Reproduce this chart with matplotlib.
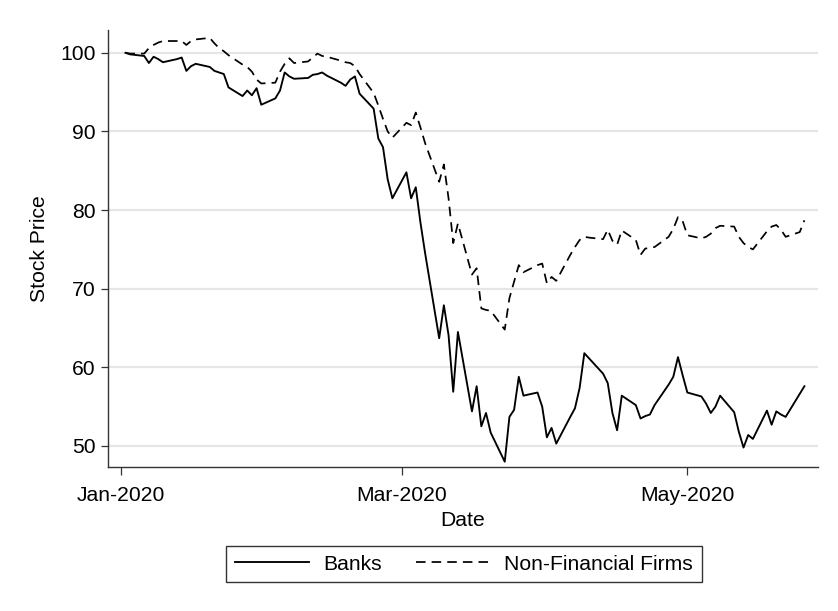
import pandas as pd
import matplotlib
matplotlib.use('Agg')
import matplotlib.pyplot as plt
import matplotlib.dates as mdates

plt.rcParams['font.family'] = ['Liberation Sans', 'DejaVu Sans']

# Banks (solid line)
bank_dates = ['2020-01-02', '2020-01-03', '2020-01-06', '2020-01-07', '2020-01-08',
              '2020-01-09', '2020-01-10', '2020-01-13', '2020-01-14', '2020-01-15',
              '2020-01-16', '2020-01-17', '2020-01-20', '2020-01-21', '2020-01-22',
              '2020-01-23', '2020-01-24', '2020-01-27', '2020-01-28', '2020-01-29',
              '2020-01-30', '2020-01-31', '2020-02-03', '2020-02-04', '2020-02-05',
              '2020-02-06', '2020-02-07', '2020-02-10', '2020-02-11', '2020-02-12',
              '2020-02-13', '2020-02-14', '2020-02-17', '2020-02-18', '2020-02-19',
              '2020-02-20', '2020-02-21', '2020-02-24', '2020-02-25', '2020-02-26',
              '2020-02-27', '2020-02-28', '2020-03-02', '2020-03-03', '2020-03-04',
              '2020-03-05', '2020-03-06', '2020-03-09', '2020-03-10', '2020-03-11',
              '2020-03-12', '2020-03-13', '2020-03-16', '2020-03-17', '2020-03-18',
              '2020-03-19', '2020-03-20', '2020-03-23', '2020-03-24', '2020-03-25',
              '2020-03-26', '2020-03-27', '2020-03-30', '2020-03-31', '2020-04-01',
              '2020-04-02', '2020-04-03', '2020-04-06', '2020-04-07', '2020-04-08',
              '2020-04-09', '2020-04-13', '2020-04-14', '2020-04-15', '2020-04-16',
              '2020-04-17', '2020-04-20', '2020-04-21', '2020-04-22', '2020-04-23',
              '2020-04-24', '2020-04-27', '2020-04-28', '2020-04-29', '2020-04-30',
              '2020-05-01', '2020-05-04', '2020-05-05', '2020-05-06', '2020-05-07',
              '2020-05-08', '2020-05-11', '2020-05-12', '2020-05-13', '2020-05-14',
              '2020-05-15', '2020-05-18', '2020-05-19', '2020-05-20', '2020-05-21',
              '2020-05-22', '2020-05-26']
bank_vals = [100.0, 99.8, 99.6, 98.7, 99.5,
             99.2, 98.8, 99.2, 99.4, 97.7,
             98.3, 98.6, 98.2, 97.7, 97.5,
             97.3, 95.6, 94.5, 95.2, 94.6,
             95.5, 93.4, 94.2, 95.2, 97.5,
             97.0, 96.7, 96.8, 97.2, 97.3,
             97.5, 97.1, 96.2, 95.8, 96.6,
             97.0, 94.8, 92.9, 89.1, 88.0,
             83.9, 81.5, 84.8, 81.5, 82.9,
             78.4, 74.5, 63.7, 67.9, 64.1,
             56.9, 64.5, 54.4, 57.6, 52.5,
             54.2, 51.7, 48.0, 53.7, 54.6,
             58.8, 56.4, 56.8, 55.0, 51.1,
             52.3, 50.3, 53.7, 54.8, 57.4,
             61.8, 59.2, 58.0, 54.2, 52.0,
             56.4, 55.2, 53.5, 53.8, 54.0,
             55.2, 57.8, 58.8, 61.3, 59.0,
             56.8, 56.3, 55.4, 54.2, 55.0,
             56.4, 54.3, 51.8, 49.8, 51.4,
             50.9, 54.5, 52.7, 54.4, 54.0,
             53.7, 57.6]

# Non-financial firms (dashed line)
nfc_dates = ['2020-01-02', '2020-01-03', '2020-01-06', '2020-01-07', '2020-01-08',
             '2020-01-09', '2020-01-10', '2020-01-13', '2020-01-14', '2020-01-15',
             '2020-01-16', '2020-01-17', '2020-01-20', '2020-01-21', '2020-01-22',
             '2020-01-23', '2020-01-24', '2020-01-27', '2020-01-28', '2020-01-29',
             '2020-01-30', '2020-01-31', '2020-02-03', '2020-02-04', '2020-02-05',
             '2020-02-06', '2020-02-07', '2020-02-10', '2020-02-11', '2020-02-12',
             '2020-02-13', '2020-02-14', '2020-02-17', '2020-02-18', '2020-02-19',
             '2020-02-20', '2020-02-21', '2020-02-24', '2020-02-25', '2020-02-26',
             '2020-02-27', '2020-02-28', '2020-03-02', '2020-03-03', '2020-03-04',
             '2020-03-05', '2020-03-06', '2020-03-09', '2020-03-10', '2020-03-11',
             '2020-03-12', '2020-03-13', '2020-03-16', '2020-03-17', '2020-03-18',
             '2020-03-19', '2020-03-20', '2020-03-23', '2020-03-24', '2020-03-25',
             '2020-03-26', '2020-03-27', '2020-03-30', '2020-03-31', '2020-04-01',
             '2020-04-02', '2020-04-03', '2020-04-06', '2020-04-07', '2020-04-08',
             '2020-04-09', '2020-04-10', '2020-04-13', '2020-04-14', '2020-04-15',
             '2020-04-16', '2020-04-17', '2020-04-20', '2020-04-21', '2020-04-22',
             '2020-04-23', '2020-04-24', '2020-04-27', '2020-04-28', '2020-04-29',
             '2020-04-30', '2020-05-01', '2020-05-04', '2020-05-05', '2020-05-06',
             '2020-05-07', '2020-05-08', '2020-05-11', '2020-05-12', '2020-05-13',
             '2020-05-14', '2020-05-15', '2020-05-18', '2020-05-19', '2020-05-20',
             '2020-05-21', '2020-05-22', '2020-05-25', '2020-05-26']
nfc_vals = [100.0, 99.9, 99.9, 100.6, 101.0,
            101.3, 101.5, 101.5, 101.5, 101.0,
            101.5, 101.7, 101.9, 101.2, 100.6,
            100.2, 99.7, 98.5, 98.2, 97.6,
            96.6, 96.1, 96.2, 97.6, 98.6,
            99.3, 98.7, 98.9, 99.4, 99.9,
            99.6, 99.5, 99.0, 98.8, 98.7,
            98.3, 97.3, 94.9, 93.3, 91.6,
            90.0, 89.2, 91.1, 90.8, 92.4,
            90.5, 88.5, 83.6, 85.8, 81.5,
            75.8, 78.3, 71.8, 72.6, 67.5,
            67.3, 67.2, 64.8, 68.8, 70.9,
            73.0, 72.1, 73.0, 73.2, 70.7,
            71.5, 71.0, 74.3, 75.3, 76.2,
            76.6, 76.5, 76.3, 77.5, 76.1,
            75.6, 77.4, 76.2, 74.3, 75.1,
            75.2, 75.3, 76.6, 77.6, 79.1,
            78.6, 76.8, 76.4, 76.6, 77.0,
            77.7, 78.0, 77.9, 76.6, 75.8,
            75.3, 75.0, 77.3, 77.9, 78.1,
            77.5, 76.6, 77.2, 78.7]

y_ticks = [50, 60, 70, 80, 90, 100]
x_ticks = ['2020-01-01', '2020-03-01', '2020-05-01']

fig = plt.figure(figsize=(8.38, 6.11), dpi=100)
ax = fig.add_axes([0.1289, 0.2357, 0.8472, 0.7152])

ax.plot(pd.to_datetime(bank_dates), bank_vals, color='black', lw=1.35,
        label='Banks')
ax.plot(pd.to_datetime(nfc_dates), nfc_vals, color='black', lw=1.25,
        dashes=(5.5, 3.5), label='Non-Financial Firms')

# axes limits (Stata-style margins)
t0 = pd.Timestamp('2020-01-01')
ax.set_xlim(mdates.date2num(t0 - pd.Timedelta(days=2.73)),
            mdates.date2num(t0 + pd.Timedelta(days=148.9)))
ax.set_ylim(47.33, 102.9)

ax.set_yticks(y_ticks)
ax.set_xticks(pd.to_datetime(x_ticks))
ax.xaxis.set_major_formatter(mdates.DateFormatter('%b-%Y'))

ax.grid(axis='y', color='#e6e6e6', lw=1.6)
ax.set_axisbelow(True)
for s in ['top', 'right']:
    ax.spines[s].set_visible(False)
for s in ['left', 'bottom']:
    ax.spines[s].set_linewidth(1.0)
    ax.spines[s].set_color('#333333')

fs = 15.2
ax.tick_params(axis='both', labelsize=fs, width=0.9, color='#333333')
ax.tick_params(axis='x', length=6, pad=8)
ax.tick_params(axis='y', length=5, pad=4)
ax.set_ylabel('Stock Price', fontsize=fs, labelpad=8)
ax.set_xlabel('Date', fontsize=fs, labelpad=4)

leg = fig.legend(loc='center', bbox_to_anchor=(0.5537, 0.0769), ncol=2,
                 fontsize=fs, frameon=True, fancybox=False, edgecolor='black',
                 handlelength=3.5, handletextpad=0.7, columnspacing=1.6,
                 borderpad=0.4)
leg.get_frame().set_linewidth(1.0)

fig.savefig('out.png', dpi=100)
